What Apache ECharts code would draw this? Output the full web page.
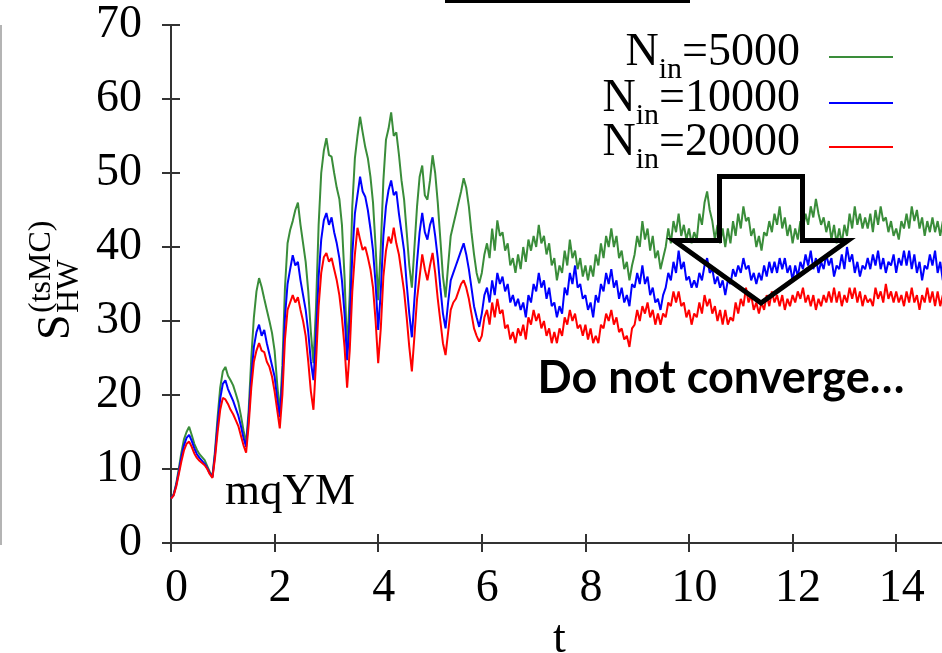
<!DOCTYPE html>
<html>
<head>
<meta charset="utf-8">
<title>S_HW(tsMC) vs t</title>
<script src="https://cdn.jsdelivr.net/npm/echarts@6/dist/echarts.min.js"></script>
<style>
  html, body { margin: 0; padding: 0; background: #ffffff; }
  #chart { width: 942px; height: 653px; }
</style>
</head>
<body>
<div id="chart"></div>
<script>
// Sampling grid of the time series (t = T_START + i * T_STEP)
const T_START = 0;
const T_STEP = 0.05;

// S_HW^(tsMC)(t) for N_in = 5000
const S_5000 = [
  6.0, 6.6, 8.0, 10.0, 12.2, 14.0, 15.0, 15.7, 14.6, 13.4, 12.6, 12.0, 11.6, 11.2, 10.4, 9.6, 9.0, 12.5, 17.0, 21.0,
  23.2, 23.8, 22.6, 22.0, 21.3, 20.2, 19.0, 17.2, 15.2, 13.5, 18.0, 25.0, 30.5, 34.0, 35.8, 34.6, 33.0, 31.5, 30.0, 28.4,
  26.0, 21.5, 17.6, 24.0, 34.5, 40.5, 42.3, 43.5, 45.0, 46.0, 43.0, 40.5, 38.0, 34.0, 28.5, 24.3, 32.0, 43.0, 50.0, 53.0,
  54.7, 52.4, 52.2, 50.0, 48.0, 46.5, 43.0, 36.0, 26.0, 33.5, 45.5, 52.0, 55.0, 57.6, 55.5, 53.5, 52.0, 49.5, 46.0, 40.0,
  32.8, 40.0, 49.0, 54.5, 56.0, 58.2, 55.0, 55.5, 52.5, 49.0, 46.4, 42.0, 37.5, 34.5, 40.0, 45.5, 49.5, 51.0, 47.0, 46.4,
  49.0, 52.4, 50.0, 46.0, 41.0, 36.0, 33.2, 37.5, 41.5, 43.0, 44.5, 46.0, 47.5, 49.3, 48.0, 45.5, 42.0, 39.0, 36.5, 35.1,
  36.5, 39.0, 40.5, 38.5, 42.5, 39.5, 43.6, 41.5, 42.0, 39.5, 40.5, 37.5, 38.5, 36.5, 39.0, 37.0, 40.0, 38.0, 41.0, 39.5,
  41.5, 40.0, 43.0, 40.5, 41.5, 39.0, 40.5, 37.5, 38.5, 35.5, 37.5, 36.5, 39.5, 37.5, 41.0, 38.5, 39.5, 37.0, 38.5, 36.0,
  37.5, 35.5, 37.5, 36.0, 39.0, 37.5, 40.5, 38.5, 41.5, 40.0, 42.5, 40.0, 41.5, 38.5, 39.5, 37.0, 38.0, 35.5, 37.5, 39.0,
  41.5, 40.0, 43.5, 41.0, 42.5, 39.5, 41.5, 38.5, 39.5, 37.0, 38.5, 40.0, 42.5, 40.5, 43.5, 42.0, 44.5, 41.5, 43.0, 41.0,
  42.5, 40.5, 42.0, 41.0, 44.5, 43.0, 46.0, 47.5, 45.0, 43.5, 41.0, 43.0, 40.5, 42.5, 40.0, 42.5, 40.5, 43.5, 41.5, 44.5,
  42.5, 45.5, 43.5, 44.0, 41.5, 42.5, 40.0, 41.5, 39.5, 42.0, 41.5, 43.5, 42.0, 44.5, 43.0, 45.5, 42.5, 44.0, 41.5, 43.0,
  40.5, 42.5, 41.0, 43.5, 42.5, 44.5, 43.0, 45.5, 44.0, 46.5, 44.5, 43.0, 44.0, 42.0, 43.5, 41.0, 43.0, 40.5, 42.5, 40.5,
  43.0, 41.5, 44.5, 42.5, 45.5, 43.0, 44.5, 42.5, 44.0, 42.5, 44.5, 42.0, 45.0, 43.0, 45.5, 43.5, 44.0, 42.0, 43.5, 41.5,
  42.5, 41.0, 43.5, 42.5, 44.5, 42.5, 45.5, 43.5, 45.0, 42.5, 44.0, 41.5, 43.5, 42.0, 44.0, 42.0, 43.5, 41.5, 43.5, 42.0,
  43.0
];

// S_HW^(tsMC)(t) for N_in = 10000
const S_10000 = [
  6.0, 6.5, 7.8, 9.6, 11.6, 13.2, 14.2, 14.6, 13.8, 12.8, 12.0, 11.5, 11.1, 10.7, 10.1, 9.4, 8.9, 12.0, 16.0, 19.5,
  21.5, 22.0, 20.8, 20.0, 19.2, 18.2, 17.2, 15.8, 14.2, 13.0, 17.0, 22.5, 26.5, 28.5, 29.5, 28.0, 28.8, 27.0, 25.5, 24.0,
  22.5, 19.5, 17.0, 22.0, 30.5, 35.0, 37.0, 38.9, 37.5, 38.0, 35.5, 33.5, 31.5, 28.5, 24.5, 22.0, 28.0, 36.0, 41.0, 43.6,
  44.6, 43.0, 44.0, 42.0, 40.5, 38.5, 35.5, 31.0, 24.7, 30.0, 39.0, 44.5, 47.0, 49.5, 47.5, 46.8, 45.0, 42.5, 39.5, 35.0,
  28.8, 34.0, 41.5, 45.5, 47.7, 49.0, 47.0, 47.5, 44.5, 42.0, 39.5, 35.0, 31.0, 27.8, 33.0, 38.0, 42.0, 44.6, 42.0, 41.0,
  43.0, 44.0, 41.5, 38.5, 34.5, 31.0, 29.0, 32.5, 35.5, 36.5, 37.5, 38.5, 39.5, 40.5, 39.0, 37.0, 34.5, 32.0, 30.5, 29.2,
  31.0, 33.5, 34.5, 32.5, 35.5, 33.5, 36.5, 35.0, 36.0, 34.0, 35.0, 32.5, 33.5, 32.0, 33.0, 31.5, 32.5, 30.5, 33.5, 32.5,
  35.0, 34.0, 36.5, 34.5, 35.5, 33.0, 34.5, 32.0, 32.5, 30.5, 32.0, 31.0, 34.5, 33.5, 36.5, 35.0, 37.5, 34.5, 35.0, 33.0,
  33.5, 31.5, 32.5, 30.5, 33.5, 32.5, 35.0, 34.0, 36.5, 35.0, 37.0, 34.5, 35.5, 33.0, 34.5, 32.5, 33.5, 32.0, 35.0, 34.5,
  36.5, 35.0, 37.5, 35.0, 36.0, 33.5, 34.5, 32.5, 33.0, 31.5, 33.5, 34.5, 36.5, 35.5, 38.0, 36.5, 39.5, 37.0, 38.0, 35.5,
  36.0, 34.5, 35.5, 34.5, 36.5, 35.5, 37.5, 38.5, 36.5, 37.0, 35.0, 36.0, 34.5, 35.5, 33.5, 35.5, 35.0, 37.0, 36.0, 37.5,
  36.5, 38.5, 37.0, 37.5, 35.5, 36.5, 35.0, 36.5, 35.5, 37.5, 36.0, 38.0, 36.5, 38.0, 36.5, 38.5, 37.0, 38.5, 36.5, 37.5,
  35.5, 37.5, 36.0, 38.0, 37.0, 39.0, 37.5, 39.5, 37.0, 38.5, 36.5, 38.0, 37.0, 39.0, 37.5, 38.5, 36.0, 37.5, 37.0, 39.0,
  37.0, 40.0, 38.0, 39.0, 36.5, 38.0, 36.0, 37.5, 37.0, 38.5, 37.0, 39.0, 37.5, 39.5, 37.0, 38.5, 36.5, 38.0, 37.5, 39.0,
  36.5, 38.5, 37.5, 39.5, 37.5, 39.5, 37.0, 39.0, 36.5, 38.0, 35.5, 37.5, 37.0, 39.0, 37.5, 39.5, 36.5, 38.0, 35.5, 37.5,
  36.5
];

// S_HW^(tsMC)(t) for N_in = 20000
const S_20000 = [
  6.0, 6.4, 7.6, 9.3, 11.0, 12.5, 13.4, 13.7, 13.0, 12.1, 11.5, 11.1, 10.8, 10.5, 10.0, 9.3, 8.8, 11.5, 15.0, 18.0,
  19.6, 19.4, 18.8, 18.0, 17.4, 16.6, 15.8, 14.5, 13.2, 12.2, 16.0, 21.0, 24.5, 26.0, 27.0, 26.0, 25.8, 24.5, 23.8, 22.5,
  20.5, 18.0, 15.5, 20.0, 27.5, 31.5, 32.5, 33.5, 32.5, 33.2, 31.5, 30.0, 28.0, 24.5, 20.5, 18.0, 24.5, 32.0, 36.5, 38.6,
  39.2, 38.0, 38.5, 37.0, 35.5, 33.5, 30.5, 26.5, 21.0, 26.0, 34.0, 39.0, 42.6, 41.0, 39.6, 40.0, 38.6, 37.0, 34.5, 30.0,
  24.3, 29.0, 36.0, 39.5, 41.4, 40.5, 42.6, 40.5, 39.0, 36.5, 34.0, 30.5, 26.5, 23.2, 28.0, 33.0, 36.0, 39.0, 37.0, 35.5,
  37.5, 39.2, 36.5, 33.0, 30.0, 27.0, 25.4, 28.5, 31.5, 32.5, 33.0, 34.0, 35.0, 35.5, 34.5, 33.0, 31.0, 29.0, 28.0, 27.2,
  28.0, 30.5, 31.5, 29.5, 32.5, 30.5, 33.0, 31.0, 31.5, 29.0, 29.5, 27.5, 28.5, 27.0, 29.0, 28.0, 29.5, 27.5, 30.5, 29.5,
  31.5, 30.0, 31.0, 29.0, 30.0, 28.0, 29.0, 27.0, 28.5, 27.0, 29.0, 28.0, 30.5, 29.5, 31.5, 30.0, 31.0, 29.0, 29.5, 28.0,
  29.5, 27.5, 29.0, 27.0, 28.0, 27.0, 29.5, 29.0, 31.0, 30.0, 31.5, 29.5, 30.5, 28.5, 29.0, 27.5, 28.0, 26.5, 29.0, 29.5,
  31.5, 30.0, 32.0, 31.0, 32.5, 30.5, 31.5, 29.5, 31.0, 29.5, 31.0, 30.5, 32.5, 32.0, 34.0, 32.5, 34.0, 32.0, 32.5, 30.5,
  31.5, 29.5, 31.0, 30.5, 32.5, 31.0, 33.5, 32.0, 33.0, 31.0, 32.0, 30.0, 31.5, 29.5, 31.5, 29.5, 30.5, 30.0, 32.5, 31.0,
  33.0, 32.0, 34.5, 32.5, 33.5, 31.5, 32.5, 31.0, 32.5, 31.5, 33.5, 32.0, 34.0, 32.5, 33.5, 32.0, 33.5, 31.5, 33.0, 32.0,
  33.5, 32.5, 34.0, 33.0, 34.5, 32.5, 33.5, 32.0, 33.5, 31.5, 33.0, 32.0, 33.5, 32.5, 34.0, 32.5, 34.5, 32.5, 34.0, 32.0,
  33.5, 32.5, 34.5, 33.0, 34.5, 32.5, 34.0, 32.0, 33.5, 32.5, 33.0, 32.0, 34.5, 33.0, 34.0, 32.5, 35.0, 33.0, 34.0, 32.5,
  34.0, 32.5, 33.5, 32.0, 34.0, 32.5, 34.5, 32.5, 33.5, 31.5, 33.5, 32.5, 34.5, 32.5, 34.0, 32.0, 34.0, 32.0, 33.5, 32.5,
  33.0
];

const SERIES_VALUES = [S_5000, S_10000, S_20000];
const N_IN = ['5000', '10000', '20000'];
const SERIES_COLORS = ['#3a8d3a', '#0000ff', '#ff0000'];

// Axis ranges and tick spacing
const T_MIN = 0, T_MAX = 15, T_INTERVAL = 2;
const S_MIN = 0, S_MAX = 70, S_INTERVAL = 10;

// Text bits
const X_NAME = 't';
const MODEL_LABEL = 'mqYM';
const NOTE_TEXT = 'Do not converge…';

const SERIF = '"Liberation Serif", "DejaVu Serif", serif';
const FRAME = '#333333';

function toPairs(values) {
  return values.map((v, i) => [+(T_START + i * T_STEP).toFixed(2), v]);
}

function frameAxis(extra) {
  return Object.assign({
    type: 'value',
    axisLine: { show: true, lineStyle: { color: FRAME, width: 2 } },
    axisTick: { show: true, inside: true, length: 9, lineStyle: { color: FRAME, width: 2 } },
    splitLine: { show: false }
  }, extra);
}

const chart = echarts.init(document.getElementById('chart'), null, { renderer: 'canvas' });

const graphic = [];

// thin bar at the top edge and the grey rule at the left edge
graphic.push({ type: 'rect', shape: { x: 445, y: 0, width: 245, height: 3 }, style: { fill: '#000' }, silent: true });
graphic.push({ type: 'line', shape: { x1: 1, y1: 25, x2: 1, y2: 545 }, style: { stroke: '#b4b4b4', lineWidth: 2 }, silent: true });

// key: "N_in=..." with a short line sample to the right
const KEY_LINE_Y = [57, 103, 147];
N_IN.forEach((n, i) => {
  graphic.push({
    type: 'text',
    silent: true,
    style: {
      text: '{m|N}{s|in}{m|=' + n + '}',
      x: 800, y: KEY_LINE_Y[i] - 4.5,
      align: 'right', verticalAlign: 'middle',
      textAlign: 'right', textVerticalAlign: 'middle',
      fill: '#000',
      rich: {
        m: { fontFamily: SERIF, fontSize: 46, lineHeight: 46, fill: '#000', color: '#000', verticalAlign: 'middle' },
        s: { fontFamily: SERIF, fontSize: 30, lineHeight: 30, fill: '#000', color: '#000', verticalAlign: 'middle', padding: [36, 0, 0, 0] }
      }
    }
  });
  graphic.push({
    type: 'line', silent: true,
    shape: { x1: 829, y1: KEY_LINE_Y[i], x2: 893, y2: KEY_LINE_Y[i] },
    style: { stroke: SERIES_COLORS[i], lineWidth: 2 }
  });
});

// model tag inside the plot
graphic.push({
  type: 'text', silent: true,
  style: { text: MODEL_LABEL, x: 225, y: 492, font: '45px ' + SERIF, fill: '#000',
           align: 'left', verticalAlign: 'middle', textAlign: 'left', textVerticalAlign: 'middle' }
});

// vertical axis title S_HW^(tsMC), written bottom-to-top
graphic.push({
  type: 'group', x: 72, y: 340, rotation: Math.PI / 2, silent: true,
  children: [
    { type: 'text', style: { text: 'S', x: 0, y: -15, font: '46px ' + SERIF, fill: '#000',
      align: 'left', verticalAlign: 'middle', textAlign: 'left', textVerticalAlign: 'middle' } },
    { type: 'text', style: { text: 'HW', x: 27, y: -2.5, font: '32px ' + SERIF, fill: '#000',
      align: 'left', verticalAlign: 'middle', textAlign: 'left', textVerticalAlign: 'middle' } },
    { type: 'text', style: { text: '(tsMC)', x: 27, y: -30.5, font: '32px ' + SERIF, fill: '#000',
      align: 'left', verticalAlign: 'middle', textAlign: 'left', textVerticalAlign: 'middle' } }
  ]
});

// outlined down arrow
graphic.push({
  type: 'polygon', silent: true, z: 100,
  shape: { points: [[719.5, 176.5], [802.5, 176.5], [802.5, 240.5], [848, 240.5], [761, 303], [674, 240.5], [719.5, 240.5]] },
  style: { fill: 'none', stroke: '#000', lineWidth: 5, lineJoin: 'miter', miterLimit: 10 }
});

// annotation under the arrow
graphic.push({
  type: 'text', silent: true, z: 100,
  style: { text: NOTE_TEXT, x: 721, y: 378, font: 'bold 45px Lato, "Open Sans", sans-serif', fill: '#000',
           align: 'center', verticalAlign: 'middle', textAlign: 'center', textVerticalAlign: 'middle' }
});

const option = {
  animation: false,
  backgroundColor: '#ffffff',
  grid: { left: 171, top: 25, width: 777, height: 518, containLabel: false, outerBoundsMode: 'none' },
  xAxis: [
    frameAxis({
      position: 'bottom', min: T_MIN, max: T_MAX, interval: T_INTERVAL,
      axisLabel: {
        fontFamily: SERIF, fontSize: 46, color: '#000', margin: 23, padding: [0, 0, 0, 11],
        showMaxLabel: false,
        formatter: v => (v % T_INTERVAL === 0 ? String(v) : '')
      },
      name: X_NAME, nameLocation: 'middle', nameGap: 62,
      nameTextStyle: { fontFamily: SERIF, fontSize: 46, color: '#000' }
    }),
    frameAxis({ position: 'top', min: T_MIN, max: T_MAX, interval: T_INTERVAL, axisLabel: { show: false } })
  ],
  yAxis: [
    frameAxis({
      position: 'left', min: S_MIN, max: S_MAX, interval: S_INTERVAL,
      axisLabel: { fontFamily: SERIF, fontSize: 46, color: '#000', margin: 29 }
    }),
    frameAxis({ position: 'right', min: S_MIN, max: S_MAX, interval: S_INTERVAL, axisLabel: { show: false } })
  ],
  series: SERIES_VALUES.map((vals, i) => ({
    name: 'N_in=' + N_IN[i],
    type: 'line',
    xAxisIndex: 0,
    yAxisIndex: 0,
    data: toPairs(vals),
    symbol: 'none',
    showSymbol: false,
    clip: true,
    lineStyle: { color: SERIES_COLORS[i], width: 2 },
    itemStyle: { color: SERIES_COLORS[i] },
    z: 2 + i
  })),
  graphic: graphic
};

chart.setOption(option);
</script>
</body>
</html>
